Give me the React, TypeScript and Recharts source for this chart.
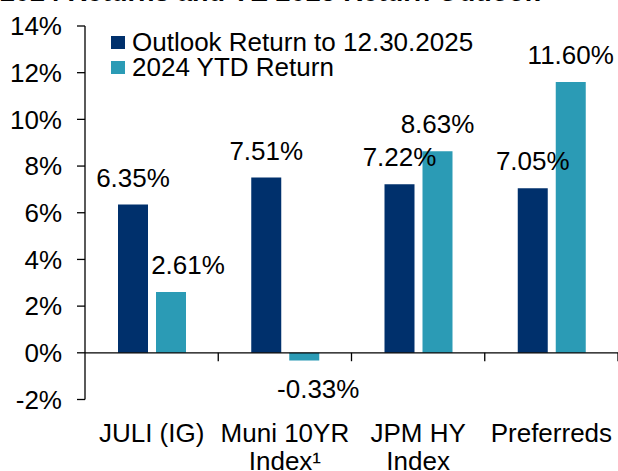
import React from 'react'
import {
  BarChart, Bar, XAxis, YAxis, Legend, ReferenceLine, LabelList,
} from 'recharts'

// values
const categories = ['JULI (IG)', 'Muni 10YR\nIndex¹', 'JPM HY\nIndex', 'Preferreds']
const seriesNames = ['Outlook Return to 12.30.2025', '2024 YTD Return']
const outlookReturn = [6.35, 7.51, 7.22, 7.05]
const ytdReturn = [2.61, -0.33, 8.63, 11.6]
const yTicks = [-2, 0, 2, 4, 6, 8, 10, 12, 14]

const NAVY = '#00306c'
const TEAL = '#2b9bb5'
const FONT = '"Liberation Sans", Arial, sans-serif'

const data = categories.map((c, i) => ({
  name: c,
  outlook: outlookReturn[i],
  ytd: ytdReturn[i],
}))

// small sideways nudges, like the hand-placed labels in the original
const YTD_LABEL_DX = [17, 14, 0, 0]

function makeLabel(dxList?: number[]) {
  return (props: any) => {
    const { x, y, width, height, value, index } = props
    const top = Math.min(y, y + height)
    const bottom = Math.max(y, y + height)
    const cx = x + width / 2 + (dxList ? dxList[index] ?? 0 : 0)
    const ty = value >= 0 ? top - 18 : bottom + 37
    return (
      <text x={cx} y={ty} textAnchor="middle" fontSize={26} fontFamily={FONT} fill="#000">
        {`${value.toFixed(2)}%`}
      </text>
    )
  }
}

function CategoryTick(props: any) {
  const { x, y, payload } = props
  const lines = String(payload.value).split('\n')
  return (
    <text x={x} y={y} textAnchor="middle" fontSize={26} fontFamily={FONT} fill="#000">
      {lines.map((l, i) => (
        <tspan key={i} x={x} dy={i === 0 ? 42 : 28}>{l}</tspan>
      ))}
    </text>
  )
}

function LegendBox(props: any) {
  const items = [...(props.payload ?? [])].sort(
    (a: any, b: any) => seriesNames.indexOf(a.value) - seriesNames.indexOf(b.value),
  )
  return (
    <div style={{ fontFamily: FONT, fontSize: 26, lineHeight: '25px', color: '#000' }}>
      {items.map((p: any) => (
        <div key={p.value} style={{ display: 'flex', alignItems: 'center', whiteSpace: 'nowrap' }}>
          <span style={{ width: 14, height: 13, background: p.color, marginRight: 7, display: 'inline-block' }} />
          <span>{p.value}</span>
        </div>
      ))}
    </div>
  )
}

export default function App() {
  return (
    <div style={{
      position: 'absolute', left: 0, top: 0, width: 618, height: 471,
      overflow: 'hidden', background: '#fff',
    }}>
      <div style={{
        position: 'absolute', left: 0, top: -21, width: 528, textAlign: 'center',
        fontFamily: FONT, fontWeight: 'bold', fontSize: 27, lineHeight: '27px',
        whiteSpace: 'nowrap', color: '#000',
      }}>
        2024 Returns and YE 2025 Return Outlook
      </div>
      <BarChart
        width={618} height={471} data={data}
        margin={{ top: 26, right: 0, bottom: 0, left: 0 }}
        barSize={30} barGap={8}
      >
        <YAxis
          type="number" domain={[-2, 14]} ticks={yTicks} interval={0}
          tickFormatter={(v: number) => `${v}%`}
          width={85} tickSize={8} tickMargin={15}
          axisLine={{ stroke: '#000', strokeWidth: 1.3 }}
          tickLine={{ stroke: '#000', strokeWidth: 1.3 }}
          tick={{ fontSize: 26, fontFamily: FONT, fill: '#000' }}
        />
        <XAxis
          dataKey="name" height={71.5} axisLine={false} tickLine={false}
          tickSize={0} tickMargin={0} interval={0} tick={<CategoryTick />}
        />
        <ReferenceLine y={0} stroke="#000" strokeWidth={1.3} ifOverflow="visible" />
        {categories.map(c => (
          <ReferenceLine
            key={c}
            segment={[{ x: c, y: 0 }, { x: c, y: -0.36 }]}
            position="end"
            stroke="#000" strokeWidth={1.3} ifOverflow="visible"
          />
        ))}
        <Legend
          layout="vertical" align="center" verticalAlign="middle"
          wrapperStyle={{ top: 30, left: 111, width: 'auto' }}
          content={<LegendBox />}
        />
        <Bar dataKey="outlook" name={seriesNames[0]} fill={NAVY} isAnimationActive={false}>
          <LabelList dataKey="outlook" content={makeLabel()} />
        </Bar>
        <Bar dataKey="ytd" name={seriesNames[1]} fill={TEAL} isAnimationActive={false}>
          <LabelList dataKey="ytd" content={makeLabel(YTD_LABEL_DX)} />
        </Bar>
      </BarChart>
    </div>
  )
}
